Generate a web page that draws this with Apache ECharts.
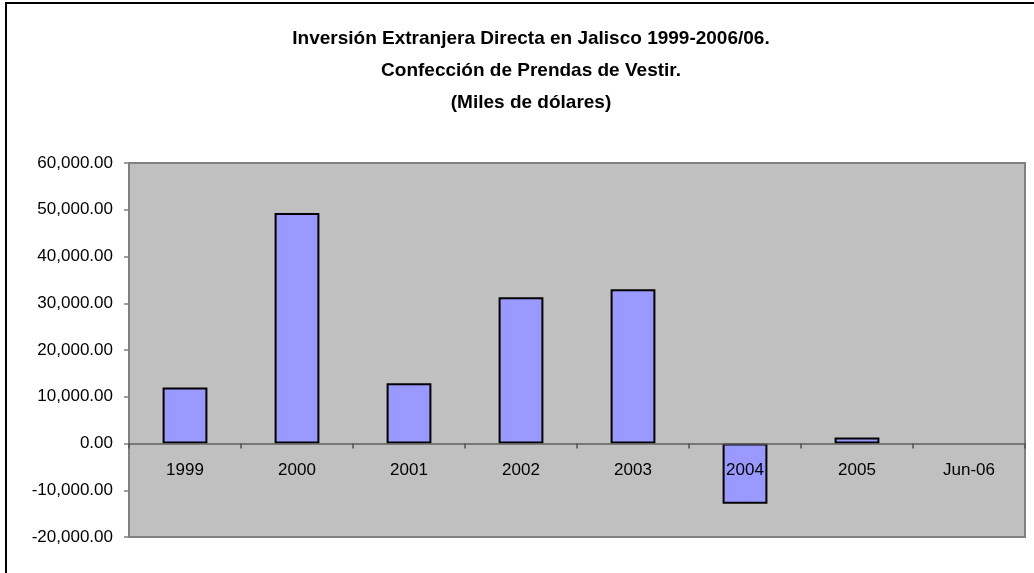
<!DOCTYPE html>
<html>
<head>
<meta charset="utf-8">
<style>
  html, body { margin: 0; padding: 0; background: #fff; }
  #chart { width: 1034px; height: 573px; }
</style>
<script src="https://cdn.jsdelivr.net/npm/echarts@6/dist/echarts.min.js"></script>
</head>
<body>
<div id="chart"></div>
<script>
// categorias del eje X
var categorias = ['1999', '2000', '2001', '2002', '2003', '2004', '2005', 'Jun-06'];
// IED en miles de dolares (Jun-06 sin dato)
var inversion = [12000, 49300, 12900, 31300, 33000, -12900, 1300, null];
var titulo = [
  'Inversión Extranjera Directa en Jalisco 1999-2006/06.',
  'Confección de Prendas de Vestir.',
  '(Miles de dólares)'
];

var fuente = '"Liberation Sans", Arial, sans-serif';
var yMin = -20000, yMax = 60000;
var gridTop = 163, gridBottom = 36, altura = 573;

// el eje X va en el cero: desplazamiento desde el borde inferior
var alto = altura - gridTop - gridBottom;
var desplazamiento = -alto * (0 - yMin) / (yMax - yMin);

var myChart = echarts.init(document.getElementById('chart'));
var option = {
  backgroundColor: '#fff',
  animation: false,
  title: {
    text: titulo.join('\n'),
    left: 526,
    textAlign: 'center',
    top: 18,
    textStyle: {
      fontFamily: fuente,
      fontSize: 19,
      fontWeight: 'bold',
      color: '#000',
      lineHeight: 32
    }
  },
  // marco exterior
  graphic: [{
    type: 'rect',
    shape: { x: 6, y: 3, width: 1100, height: 700 },
    style: { fill: 'none', stroke: '#000', lineWidth: 2 },
    silent: true
  }],
  grid: {
    left: 129,
    right: 9,
    top: gridTop,
    bottom: gridBottom,
    show: true,
    backgroundColor: '#C0C0C0',
    borderColor: '#808080',
    borderWidth: 2
  },
  xAxis: {
    type: 'category',
    data: categorias,
    z: 10,
    position: 'bottom',
    offset: desplazamiento,
    axisLine: { onZero: false, lineStyle: { color: '#606060', width: 1.5 } },
    axisTick: { show: true, inside: false, length: 5, lineStyle: { color: '#505050', width: 1.5 } },
    axisLabel: {
      margin: 18,
      fontFamily: fuente,
      fontSize: 17,
      color: '#000'
    }
  },
  yAxis: {
    type: 'value',
    min: yMin,
    max: yMax,
    interval: 10000,
    axisLine: { show: true, lineStyle: { color: '#808080', width: 2 } },
    axisTick: { show: true, length: 5, lineStyle: { color: '#808080', width: 1.5 } },
    splitLine: { show: false },
    axisLabel: {
      margin: 16,
      fontFamily: fuente,
      fontSize: 17,
      color: '#000',
      formatter: function (value) {
        return value.toLocaleString('en-US', { minimumFractionDigits: 2, maximumFractionDigits: 2 });
      }
    }
  },
  series: [{
    type: 'bar',
    data: inversion,
    barWidth: '40%',
    itemStyle: {
      color: '#9999FF',
      borderColor: '#000',
      borderWidth: 2
    }
  }]
};
myChart.setOption(option);
</script>
</body>
</html>
